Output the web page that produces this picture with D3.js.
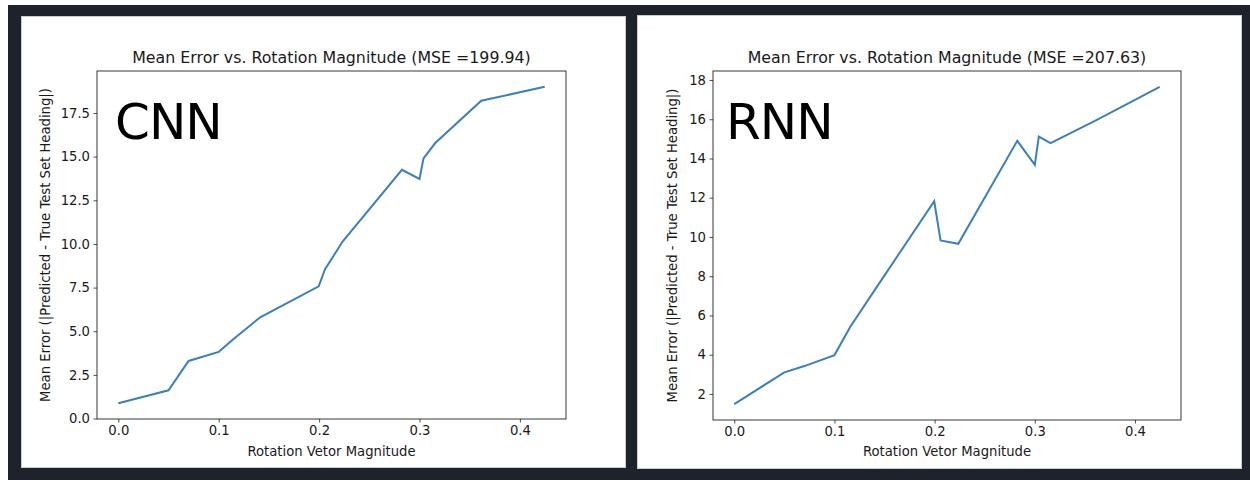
<!DOCTYPE html>
<html>
<head>
<meta charset="utf-8">
<script src="https://cdn.jsdelivr.net/npm/d3@7"></script>
<style>
  html, body { margin: 0; padding: 0; background: #ffffff; }
  svg { display: block; }
  text { font-family: "DejaVu Sans", sans-serif; }
</style>
</head>
<body>
<svg id="chart" width="1250" height="480"></svg>
<script>
// Rotation magnitude bins shared by both models
const rotationMagnitude = [0, 0.05, 0.07, 0.1, 0.1157, 0.1413, 0.1996, 0.2059, 0.2236, 0.2825, 0.3, 0.304, 0.3157, 0.3615, 0.4247];

// Mean heading error per bin
const cnnError = [0.88, 1.62, 3.3, 3.82, 4.6, 5.8, 7.57, 8.55, 10.15, 14.25, 13.72, 14.9, 15.78, 18.2, 19.0];
const rnnError = [1.48, 3.1, 3.42, 3.98, 5.41, 7.38, 11.82, 9.82, 9.65, 14.9, 13.67, 15.11, 14.78, 15.95, 17.65];

const cnnTicks = [0, 2.5, 5, 7.5, 10, 12.5, 15, 17.5];
const rnnTicks = [2, 4, 6, 8, 10, 12, 14, 16, 18];
const xTicks = [0, 0.1, 0.2, 0.3, 0.4];

const titles = ["Mean Error vs. Rotation Magnitude (MSE =199.94)", "Mean Error vs. Rotation Magnitude (MSE =207.63)"];
const modelNames = ["CNN", "RNN"];
const xLabel = "Rotation Vetor Magnitude";
const yLabel = "Mean Error (|Predicted - True Test Set Heading|)";

const ink = "#1a1a1a";
const svg = d3.select("#chart");

// dark backdrop behind the two figure cards
svg.append("rect").attr("x", 8).attr("y", 5).attr("width", 1242).attr("height", 475).attr("fill", "#1e222b");

const panels = [
  { card: [21, 16, 605, 452], ax: [97, 71, 469, 348], ys: cnnError, ticks: cnnTicks, fmt: d3.format(".1f"), yLabX: 50, name: [115, 138.5] },
  { card: [637, 15, 605, 454], ax: [713, 71, 468, 349], ys: rnnError, ticks: rnnTicks, fmt: d3.format("d"), yLabX: 677, name: [726, 138.5] }
];

// matplotlib-style autoscale: 5% margin on each side of the data range
function padded(values) {
  const [lo, hi] = d3.extent(values);
  const m = (hi - lo) * 0.05;
  return [lo - m, hi + m];
}

panels.forEach((p, i) => {
  const [cx, cy, cw, ch] = p.card;
  svg.append("rect").attr("x", cx + 0.5).attr("y", cy + 0.5).attr("width", cw - 1).attr("height", ch - 1)
    .attr("fill", "#ffffff").attr("stroke", "#c9ccd1").attr("stroke-width", 1);

  const [ax, ay, aw, ah] = p.ax;
  const x = d3.scaleLinear().domain(padded(rotationMagnitude)).range([ax, ax + aw]);
  const y = d3.scaleLinear().domain(padded(p.ys)).range([ay + ah, ay]);

  const g = svg.append("g");

  // x axis
  const xa = g.append("g").attr("transform", `translate(0,${ay + ah})`)
    .call(d3.axisBottom(x).tickValues(xTicks).tickFormat(d3.format(".1f")).tickSizeOuter(0).tickSize(3.5).tickPadding(3.5));
  xa.select(".domain").remove();
  xa.selectAll("line").attr("stroke", "#222").attr("stroke-width", 0.8);
  xa.selectAll("text").attr("font-size", 13.2).attr("fill", ink).attr("font-family", "DejaVu Sans");

  // y axis
  const ya = g.append("g").attr("transform", `translate(${ax},0)`)
    .call(d3.axisLeft(y).tickValues(p.ticks).tickFormat(p.fmt).tickSizeOuter(0).tickSize(3.5).tickPadding(3.5));
  ya.select(".domain").remove();
  ya.selectAll("line").attr("stroke", "#222").attr("stroke-width", 0.8);
  ya.selectAll("text").attr("font-size", 13.2).attr("fill", ink).attr("font-family", "DejaVu Sans");

  // data line
  const line = d3.line().x((d, k) => x(rotationMagnitude[k])).y(d => y(d));
  g.append("path").datum(p.ys).attr("d", line)
    .attr("fill", "none").attr("stroke", "#3d7fbe").attr("stroke-width", 2).attr("stroke-linejoin", "miter");

  // axes frame
  g.append("rect").attr("x", ax).attr("y", ay).attr("width", aw).attr("height", ah)
    .attr("fill", "none").attr("stroke", "#222").attr("stroke-width", 0.9);

  // title and axis labels
  g.append("text").attr("x", ax + aw / 2).attr("y", 63).attr("text-anchor", "middle")
    .attr("font-size", 15.8).attr("fill", ink).text(titles[i]);
  g.append("text").attr("x", ax + aw / 2).attr("y", 456).attr("text-anchor", "middle")
    .attr("font-size", 13.2).attr("fill", ink).text(xLabel);
  g.append("text").attr("transform", `translate(${p.yLabX},${ay + ah / 2}) rotate(-90)`).attr("text-anchor", "middle")
    .attr("font-size", 13.2).attr("fill", ink).text(yLabel);

  // model name inside the plot
  g.append("text").attr("x", p.name[0]).attr("y", p.name[1])
    .attr("font-family", "Lato, sans-serif").attr("font-size", 50).attr("letter-spacing", -1)
    .attr("fill", "#000").text(modelNames[i]);
});
</script>
</body>
</html>
